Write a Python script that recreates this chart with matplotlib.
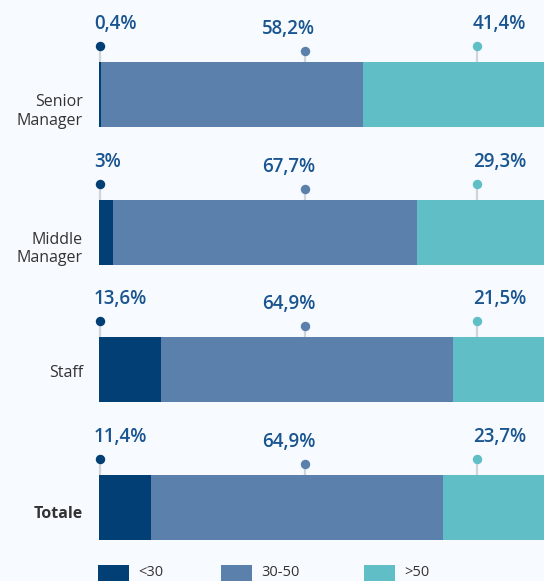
import numpy as np
import matplotlib.pyplot as plt
from matplotlib.patches import Rectangle

plt.rcParams['font.family'] = ['Open Sans', 'DejaVu Sans']

categories = ['Senior\nManager', 'Middle\nManager', 'Staff', 'Totale']
series_names = ['<30', '30-50', '>50']
under30 = [0.4, 3.0, 13.6, 11.4]
mid30_50 = [58.2, 67.7, 64.9, 64.9]
over50 = [41.4, 29.3, 21.5, 23.7]
labels_under30 = ['0,4%', '3%', '13,6%', '11,4%']
labels_mid = ['58,2%', '67,7%', '64,9%', '64,9%']
labels_over50 = ['41,4%', '29,3%', '21,5%', '23,7%']

colors = ['#023f74', '#5b80ac', '#60bec6']
bg = '#f7fbff'
label_color = '#1a5590'
text_color = '#333333'

W, H = 544, 581
fig = plt.figure(figsize=(W / 100, H / 100), dpi=100, facecolor=bg)
# axes: bars start at x=99px, 100% = 450px (runs slightly past the right edge)
ax = fig.add_axes([99.3 / W, 0, 450 / W, 1])
ax.set_facecolor(bg)
ax.set_xlim(0, 100)
step = 137.7
ax.set_ylim((H - 94.5) / step, -94.5 / step)
ax.axis('off')

y = np.arange(len(categories))
bar_h = 65 / step
left = np.zeros(len(categories))
for vals, c in zip([under30, mid30_50, over50], colors):
    ax.barh(y, vals, left=left, height=bar_h, color=c, linewidth=0)
    left += np.array(vals)

# annotation columns: dot x, text x, dot offset (px above bar top), text offset
cols = [
    (0.15, -1.2, 16, 38, labels_under30, colors[0]),
    (45.7, 36.2, 11, 33, labels_mid, colors[1]),
    (83.9, 83.0, 16, 38, labels_over50, colors[2]),
]
for i, yi in enumerate(y):
    top = yi - bar_h / 2
    for dx, tx, doff, toff, labs, c in cols:
        dy = top - doff / step
        ax.plot([dx, dx], [top, dy], color='#cfd6da', lw=1.6, zorder=2,
                clip_on=False, solid_capstyle='butt')
        ax.plot(dx, dy, 'o', ms=6.8, color=c, mec='none', zorder=3, clip_on=False)
        ax.text(tx, top - toff / step, labs[i], ha='left', va='center',
                fontsize=13.5, fontweight='semibold', color=label_color)

# category labels
offsets = [17, 17, 3, 6]
for i, (cat, off) in enumerate(zip(categories, offsets)):
    ax.text(-3.6, y[i] + off / step, cat, ha='right', va='center',
            fontsize=11.5, color=text_color, linespacing=1.2,
            fontweight='bold' if cat == 'Totale' else 'normal')

# legend
leg_x = [98, 221, 364]
for name, c, lx in zip(series_names, colors, leg_x):
    fig.add_artist(Rectangle((lx / W, 1 - 585 / H), 31 / W, 20 / H,
                             transform=fig.transFigure, color=c, lw=0))
    fig.text((lx + 40) / W, 1 - 572 / H, name, ha='left', va='center',
             fontsize=10.5, color=text_color)

fig.savefig('out.png', dpi=100, facecolor=bg)
